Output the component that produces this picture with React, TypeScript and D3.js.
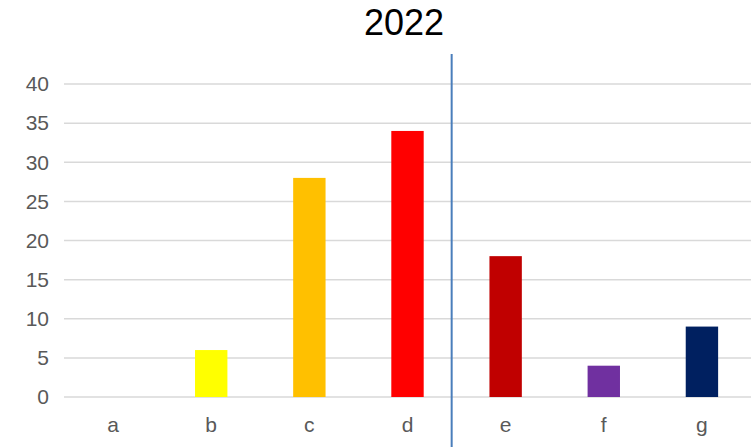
import React from "react";
import * as d3 from "d3";

const categories = ["a", "b", "c", "d", "e", "f", "g"];
const values = [0, 6, 28, 34, 18, 4, 9];
const colors = ["#FFFF00", "#FFFF00", "#FFC000", "#FF0000", "#C00000", "#7030A0", "#002060"];
const yTicks = [0, 5, 10, 15, 20, 25, 30, 35, 40];
const title = "2022";

export default function App() {
  const W = 751, H = 447;
  const left = 64, right = 751, top = 84, bottom = 397;
  const x = d3.scaleBand<string>().domain(categories).range([left, right]).paddingInner(0.67).paddingOuter(0.335);
  const y = d3.scaleLinear().domain([0, 40]).range([bottom, top]);
  const xc = (c: string) => (x(c) ?? 0) + x.bandwidth() / 2;
  const divX = xc("d") + (xc("e") - xc("d")) * 0.45;
  return (
    <svg width={W} height={H} style={{ position: "absolute", left: 0, top: 0, background: "#fff" }}
      fontFamily="Arial, 'Liberation Sans', sans-serif">
      <text x={404} y={35} textAnchor="middle" fontSize={36} fill="#000">{title}</text>
      {yTicks.map((t) => (
        <g key={t}>
          <line x1={left} x2={right} y1={y(t)} y2={y(t)} stroke="#d9d9d9" strokeWidth={1.5} />
          <text x={49} y={y(t)} dy="0.35em" textAnchor="end" fontSize={21} fill="#595959">{t}</text>
        </g>
      ))}
      {categories.map((c, i) => (
        <g key={c}>
          {values[i] > 0 && (
            <rect x={x(c)} width={x.bandwidth()} y={y(values[i])} height={y(0) - y(values[i])} fill={colors[i]} />
          )}
          <text x={xc(c)} y={425} dy="0.35em" textAnchor="middle" fontSize={21} fill="#595959">{c}</text>
        </g>
      ))}
      <line x1={divX} x2={divX} y1={54} y2={H} stroke="#4a7ebb" strokeWidth={2} />
    </svg>
  );
}
